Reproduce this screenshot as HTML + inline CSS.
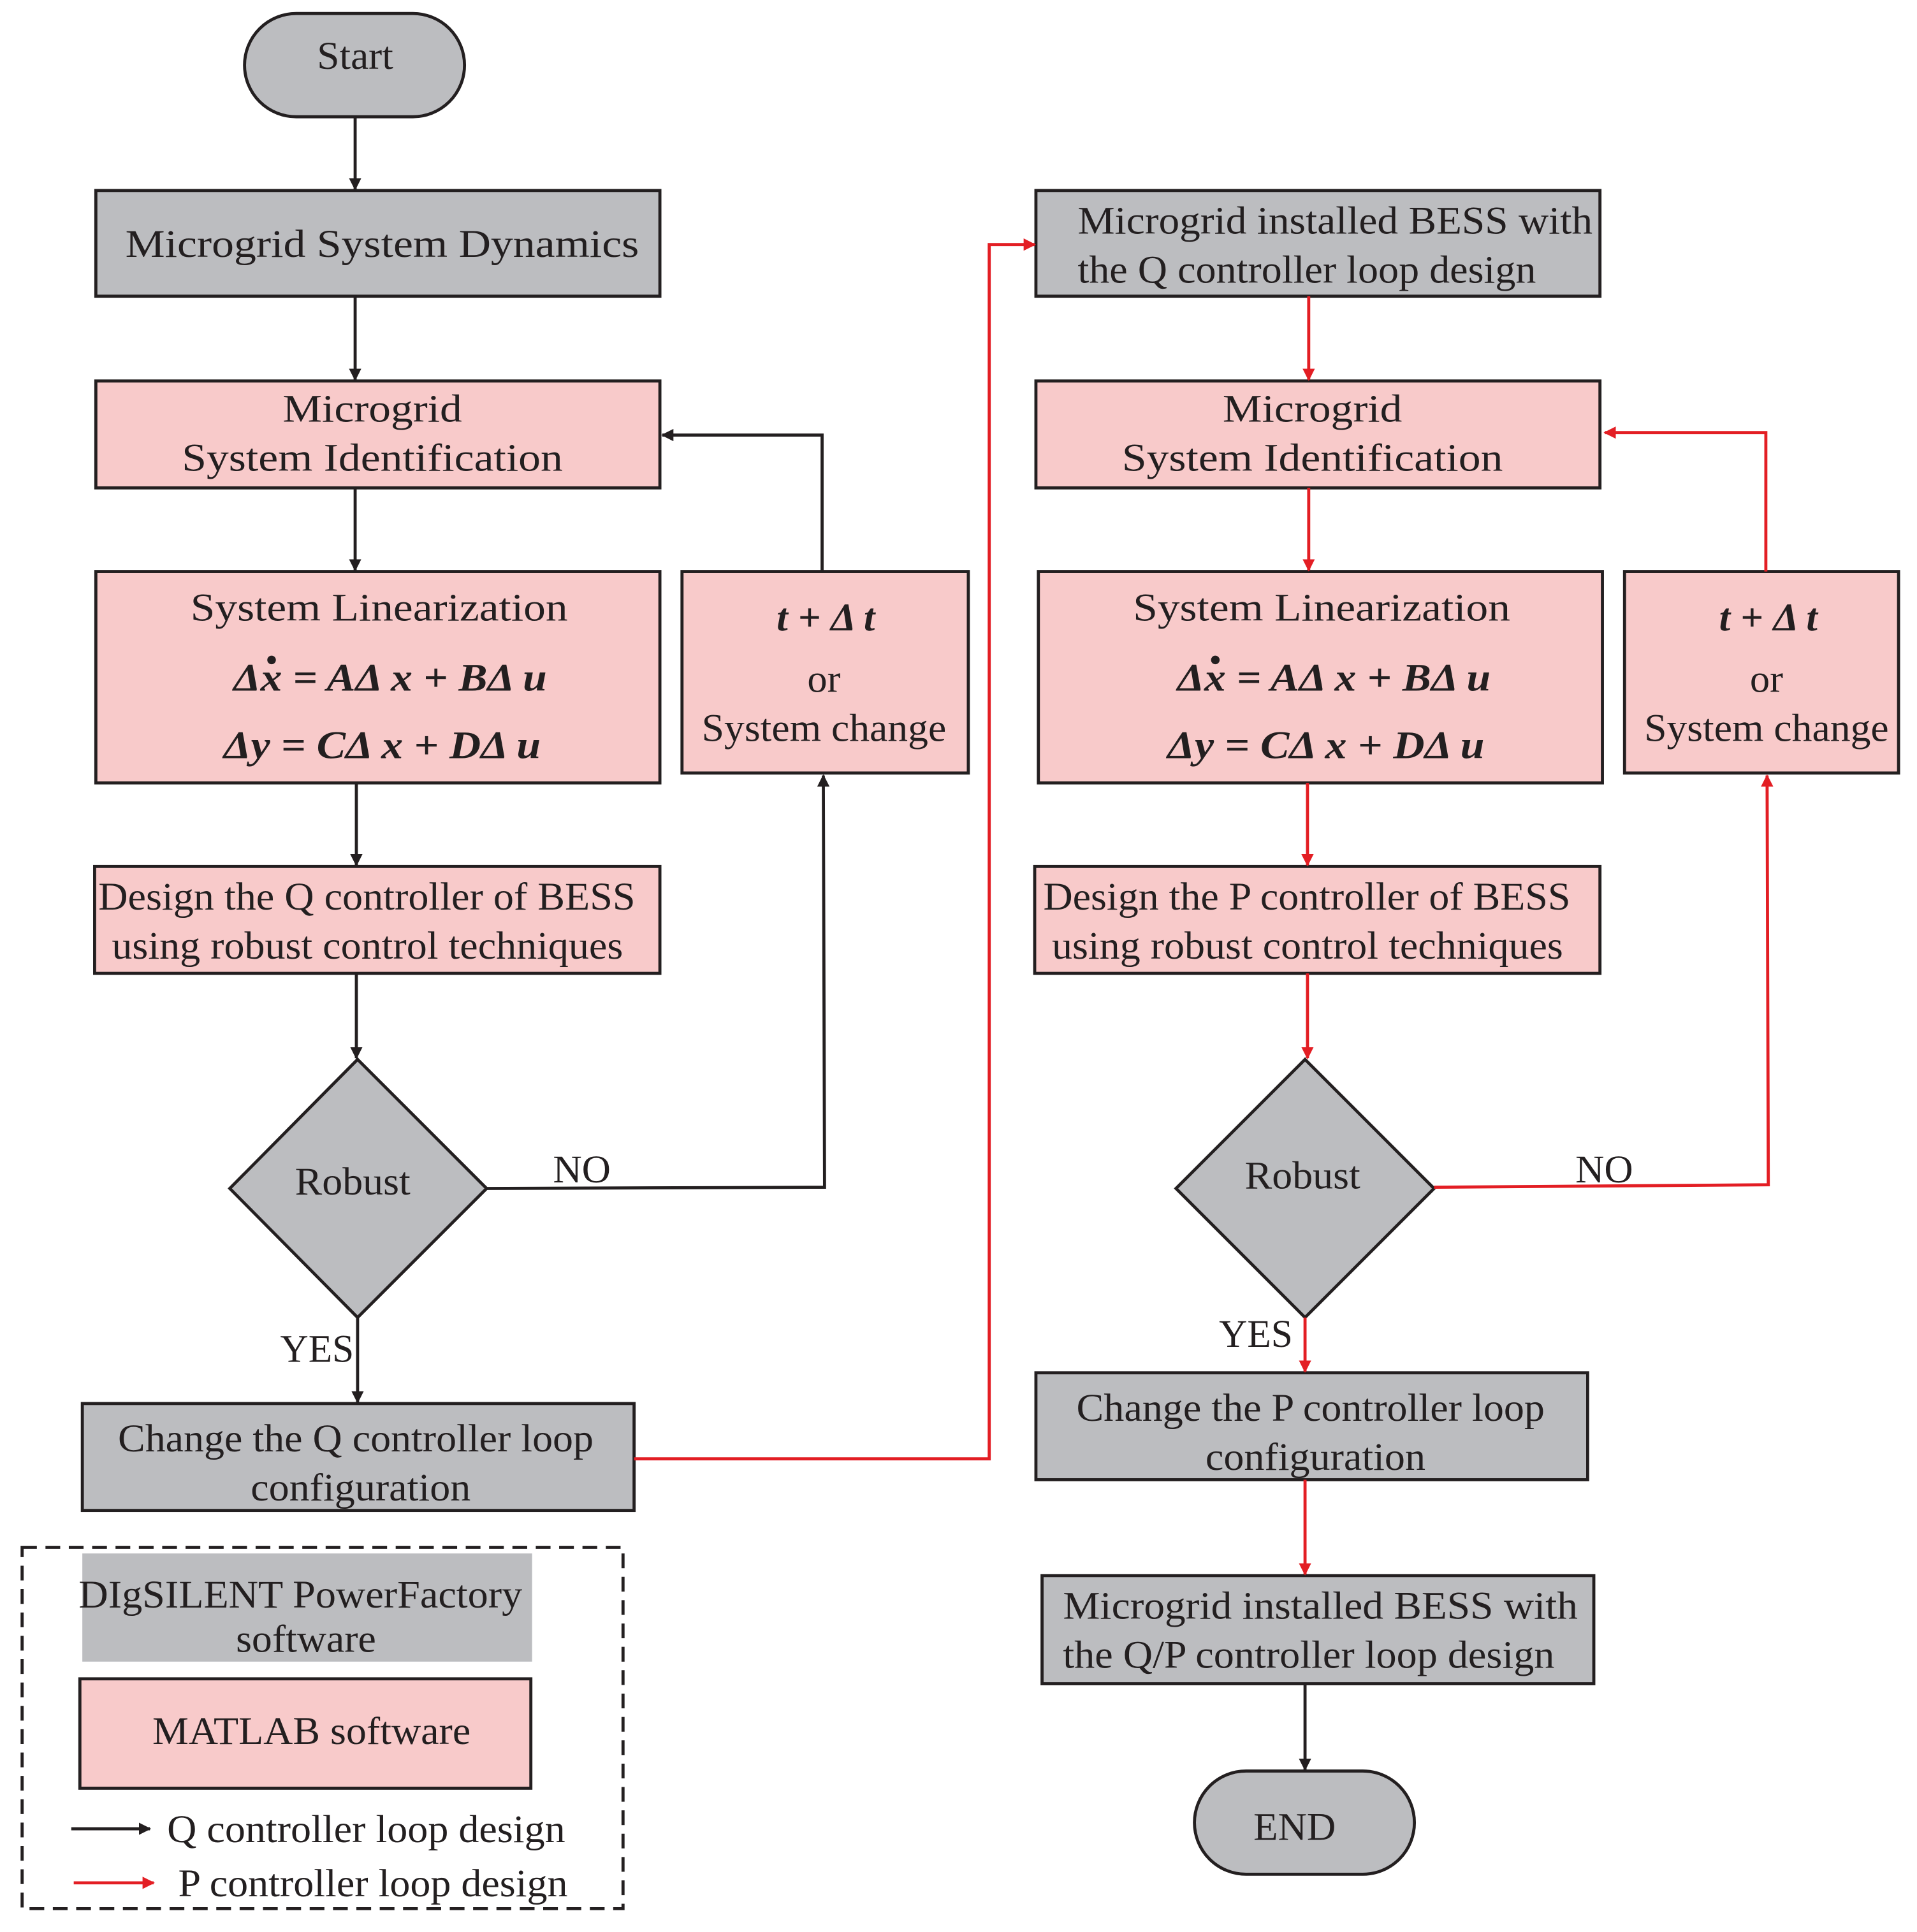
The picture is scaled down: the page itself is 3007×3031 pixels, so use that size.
<!DOCTYPE html>
<html><head><meta charset="utf-8"><style>
html,body{margin:0;padding:0;background:#fff;}
svg{display:block;}
text{font-family:"Liberation Serif",serif;font-size:32px;fill:#231f20;}
.eq{font-weight:bold;font-style:italic;font-size:32px;}
</style></head><body>
<svg width="3007" height="3031" viewBox="0 0 1560 1572" preserveAspectRatio="none" xmlns="http://www.w3.org/2000/svg">
<defs>
<marker id="ab" markerWidth="10" markerHeight="10" refX="9" refY="5" orient="auto" markerUnits="userSpaceOnUse"><path d="M0,0 L10,5 L0,10 Z" fill="#231f20"/></marker>
<marker id="ar" markerWidth="10" markerHeight="10" refX="9" refY="5" orient="auto" markerUnits="userSpaceOnUse"><path d="M0,0 L10,5 L0,10 Z" fill="#e31e24"/></marker>
</defs>
<g stroke="#231f20" stroke-width="2.5">
<rect x="199" y="11" width="179" height="84" rx="42" fill="#bcbdc0"/>
<rect x="78" y="155" width="459" height="86" fill="#bcbdc0"/>
<rect x="78" y="310" width="459" height="87" fill="#f8caca"/>
<rect x="78" y="465" width="459" height="172" fill="#f8caca"/>
<rect x="555" y="465" width="233" height="164" fill="#f8caca"/>
<rect x="77" y="705" width="460" height="87" fill="#f8caca"/>
<polygon points="291,862 396,967 291,1072 187,967" fill="#bcbdc0"/>
<rect x="67" y="1142" width="449" height="87" fill="#bcbdc0"/>
<rect x="843" y="155" width="459" height="86" fill="#bcbdc0"/>
<rect x="843" y="310" width="459" height="87" fill="#f8caca"/>
<rect x="845" y="465" width="459" height="172" fill="#f8caca"/>
<rect x="1322" y="465" width="223" height="164" fill="#f8caca"/>
<rect x="842" y="705" width="460" height="87" fill="#f8caca"/>
<polygon points="1062,862 1167,967 1062,1072 957,967" fill="#bcbdc0"/>
<rect x="843" y="1117" width="449" height="87" fill="#bcbdc0"/>
<rect x="848" y="1282" width="449" height="88" fill="#bcbdc0"/>
<rect x="972" y="1441" width="179" height="84" rx="42" fill="#bcbdc0"/>
<rect x="18" y="1259" width="489" height="294" fill="none" stroke-dasharray="12,7"/>
<rect x="67" y="1264" width="366" height="88" fill="#bcbdc0" stroke="none"/>
<rect x="65" y="1366" width="367" height="89" fill="#f8caca"/>
</g>
<g stroke="#231f20" stroke-width="2.5" fill="none" marker-end="url(#ab)">
<line x1="289" y1="95" x2="289" y2="154"/>
<line x1="289" y1="241" x2="289" y2="309"/>
<line x1="289" y1="397" x2="289" y2="464"/>
<polyline points="669,465 669,354 539,354"/>
<line x1="290" y1="637" x2="290" y2="704"/>
<line x1="290" y1="792" x2="290" y2="861"/>
<polyline points="396,967 671,966 670,631"/>
<line x1="291" y1="1072" x2="291" y2="1141"/>
<line x1="1062" y1="1370" x2="1062" y2="1440"/>
<line x1="58" y1="1488" x2="122" y2="1488"/>
</g>
<g stroke="#e31e24" stroke-width="2.5" fill="none" marker-end="url(#ar)">
<polyline points="516,1187 805,1187 805,199 842,199"/>
<line x1="1065" y1="241" x2="1065" y2="309"/>
<line x1="1065" y1="397" x2="1065" y2="464"/>
<polyline points="1437,465 1437,352 1306,352"/>
<line x1="1064" y1="637" x2="1064" y2="704"/>
<line x1="1064" y1="792" x2="1064" y2="861"/>
<polyline points="1167,966 1439,964 1438,631"/>
<line x1="1062" y1="1072" x2="1062" y2="1116"/>
<line x1="1062" y1="1204" x2="1062" y2="1281"/>
<line x1="60" y1="1532" x2="125" y2="1532"/>
</g>
<g lengthAdjust="spacingAndGlyphs">
<text x="258" y="56" textLength="62" lengthAdjust="spacingAndGlyphs">Start</text>
<text x="102" y="209" textLength="418" lengthAdjust="spacingAndGlyphs">Microgrid System Dynamics</text>
<text x="230" y="343" textLength="146" lengthAdjust="spacingAndGlyphs">Microgrid</text>
<text x="148" y="383" textLength="310" lengthAdjust="spacingAndGlyphs">System Identification</text>
<text x="155" y="505" textLength="307" lengthAdjust="spacingAndGlyphs">System Linearization</text>
<text x="632" y="513" class="eq" textLength="80" lengthAdjust="spacingAndGlyphs">t + Δ t</text>
<text x="657" y="563" textLength="27" lengthAdjust="spacingAndGlyphs">or</text>
<text x="571" y="603" textLength="199" lengthAdjust="spacingAndGlyphs">System change</text>
<text x="80" y="740" textLength="437" lengthAdjust="spacingAndGlyphs">Design the Q controller of BESS</text>
<text x="91" y="780" textLength="416" lengthAdjust="spacingAndGlyphs">using robust control techniques</text>
<text x="240" y="972" textLength="94" lengthAdjust="spacingAndGlyphs">Robust</text>
<text x="96" y="1181" textLength="387" lengthAdjust="spacingAndGlyphs">Change the Q controller loop</text>
<text x="204" y="1221" textLength="179" lengthAdjust="spacingAndGlyphs">configuration</text>
<text x="995" y="343" textLength="146" lengthAdjust="spacingAndGlyphs">Microgrid</text>
<text x="913" y="383" textLength="310" lengthAdjust="spacingAndGlyphs">System Identification</text>
<text x="922" y="505" textLength="307" lengthAdjust="spacingAndGlyphs">System Linearization</text>
<text x="1399" y="513" class="eq" textLength="80" lengthAdjust="spacingAndGlyphs">t + Δ t</text>
<text x="1424" y="563" textLength="27" lengthAdjust="spacingAndGlyphs">or</text>
<text x="1338" y="603" textLength="199" lengthAdjust="spacingAndGlyphs">System change</text>
<text x="849" y="740" textLength="429" lengthAdjust="spacingAndGlyphs">Design the P controller of BESS</text>
<text x="856" y="780" textLength="416" lengthAdjust="spacingAndGlyphs">using robust control techniques</text>
<text x="1013" y="967" textLength="94" lengthAdjust="spacingAndGlyphs">Robust</text>
<text x="876" y="1156" textLength="381" lengthAdjust="spacingAndGlyphs">Change the P controller loop</text>
<text x="981" y="1196" textLength="179" lengthAdjust="spacingAndGlyphs">configuration</text>
<text x="1020" y="1497" textLength="67" lengthAdjust="spacingAndGlyphs">END</text>
<text x="64" y="1308" textLength="361" lengthAdjust="spacingAndGlyphs">DIgSILENT PowerFactory</text>
<text x="192" y="1344" textLength="114" lengthAdjust="spacingAndGlyphs">software</text>
<text x="124" y="1419" textLength="259" lengthAdjust="spacingAndGlyphs">MATLAB software</text>
<text x="877" y="190" textLength="419" lengthAdjust="spacingAndGlyphs">Microgrid  installed BESS with</text>
<text x="877" y="230" textLength="373" lengthAdjust="spacingAndGlyphs">the Q controller loop design</text>
<text x="865" y="1317" textLength="419" lengthAdjust="spacingAndGlyphs">Microgrid  installed BESS with</text>
<text x="865" y="1357" textLength="400" lengthAdjust="spacingAndGlyphs">the Q/P controller loop design</text>
<text x="450" y="962" textLength="47" lengthAdjust="spacingAndGlyphs">NO</text>
<text x="228" y="1108" textLength="60" lengthAdjust="spacingAndGlyphs">YES</text>
<text x="1282" y="962" textLength="47" lengthAdjust="spacingAndGlyphs">NO</text>
<text x="992" y="1096" textLength="60" lengthAdjust="spacingAndGlyphs">YES</text>
<text x="136" y="1499" textLength="324" lengthAdjust="spacingAndGlyphs">Q controller loop design</text>
<text x="145" y="1543" textLength="317" lengthAdjust="spacingAndGlyphs">P controller loop design</text>
<text x="190" y="562" class="eq" textLength="255" lengthAdjust="spacingAndGlyphs">Δx  = AΔ x + BΔ u</text>
<text x="182" y="617" class="eq" textLength="258" lengthAdjust="spacingAndGlyphs">Δy  = CΔ x + DΔ u</text>
<text x="958" y="562" class="eq" textLength="255" lengthAdjust="spacingAndGlyphs">Δx  = AΔ x + BΔ u</text>
<text x="950" y="617" class="eq" textLength="258" lengthAdjust="spacingAndGlyphs">Δy  = CΔ x + DΔ u</text>
</g>
<circle cx="221" cy="537" r="3.5" fill="#231f20"/>
<circle cx="989" cy="537" r="3.5" fill="#231f20"/>
</svg>
</body></html>
